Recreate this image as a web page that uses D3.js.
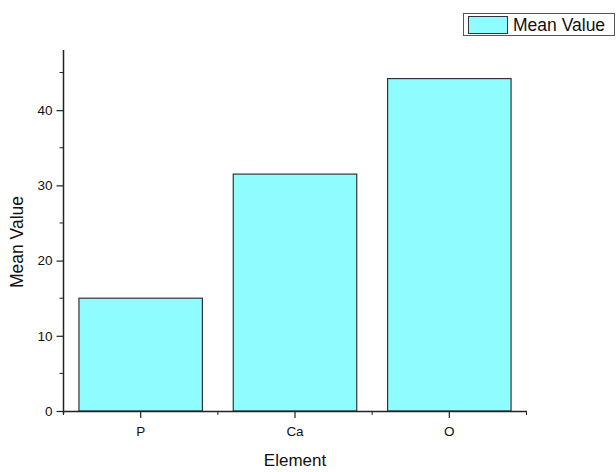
<!DOCTYPE html>
<html>
<head>
<meta charset="utf-8">
<script src="https://cdn.jsdelivr.net/npm/d3@7"></script>
<style>
  body { margin: 0; background: #fff; }
  svg, svg text { font-family: Arial, "Liberation Sans", sans-serif; }
</style>
</head>
<body>
<svg width="616" height="472"></svg>
<script>
// data
let elements = ["P", "Ca", "O"];
let meanValues = [15.0, 31.5, 44.2];
let yTicks = [0, 10, 20, 30, 40];
let yMinorTicks = [5, 15, 25, 35, 45];

let svg = d3.select("svg");

let x = d3.scaleBand()
  .domain(elements)
  .range([63.5, 526.5])
  .paddingInner(0.2)
  .paddingOuter(0.1);

let y = d3.scaleLinear()
  .domain([0, 48])
  .range([411, 50]);

let barColor = "#8ffdff";
let lineColor = "#222";

// bars
svg.selectAll("rect.bar")
  .data(elements)
  .enter().append("rect")
  .attr("class", "bar")
  .attr("x", d => x(d))
  .attr("y", (d, i) => y(meanValues[i]))
  .attr("width", x.bandwidth())
  .attr("height", (d, i) => y(0) - y(meanValues[i]))
  .style("fill", barColor)
  .style("stroke", "#333")
  .style("stroke-width", 1.2);

// y axis
let yAxis = svg.append("g")
  .attr("transform", "translate(63.5,0)")
  .call(d3.axisLeft(y).tickValues(yTicks).tickSize(7).tickPadding(4).tickSizeOuter(0));

yAxis.selectAll(".domain").attr("d", `M0,${y(48)}V${y(0) + 3}`);

svg.append("g")
  .attr("transform", "translate(63.5,0)")
  .selectAll("line")
  .data(yMinorTicks)
  .enter().append("line")
  .attr("x1", -4)
  .attr("x2", 0)
  .attr("y1", d => y(d))
  .attr("y2", d => y(d))
  .style("stroke", lineColor);

// x axis
let xAxis = svg.append("g")
  .attr("transform", `translate(0,${y(0)})`)
  .call(d3.axisBottom(x).tickSize(7).tickPadding(8).tickSizeOuter(0));

// boundary ticks between categories
let bounds = [x.range()[0]].concat(elements.map(d => x(d) + x.bandwidth() + x.step() * x.paddingInner() / 2));
bounds[bounds.length - 1] = x.range()[1];
svg.append("g")
  .attr("transform", `translate(0,${y(0)})`)
  .selectAll("line")
  .data(bounds)
  .enter().append("line")
  .attr("x1", d => d)
  .attr("x2", d => d)
  .attr("y1", 0)
  .attr("y2", 4)
  .style("stroke", lineColor);

svg.selectAll(".domain").style("stroke", lineColor).style("stroke-width", 1.5);
svg.selectAll(".tick line").style("stroke", lineColor).style("stroke-width", 1.2);
svg.selectAll(".tick text")
  .style("font-family", "Arial, 'Liberation Sans', sans-serif")
  .style("font-size", "13.5px")
  .style("fill", "#111");

// axis titles
svg.append("text")
  .attr("x", 295)
  .attr("y", 466)
  .attr("text-anchor", "middle")
  .style("font-size", "17px")
  .style("fill", "#111")
  .text("Element");

svg.append("text")
  .attr("transform", "translate(23,242) rotate(-90)")
  .attr("text-anchor", "middle")
  .style("font-size", "17.5px")
  .style("fill", "#111")
  .text("Mean Value");

// legend
let legend = svg.append("g");
legend.append("rect")
  .attr("x", 463.5).attr("y", 13.5)
  .attr("width", 151).attr("height", 22)
  .style("fill", "#fff").style("stroke", "#555");
legend.append("rect")
  .attr("x", 468.5).attr("y", 16.5)
  .attr("width", 39).attr("height", 17)
  .style("fill", barColor).style("stroke", "#333");
legend.append("text")
  .attr("x", 513).attr("y", 31)
  .style("font-size", "17.5px")
  .style("fill", "#111")
  .text("Mean Value");
</script>
</body>
</html>
